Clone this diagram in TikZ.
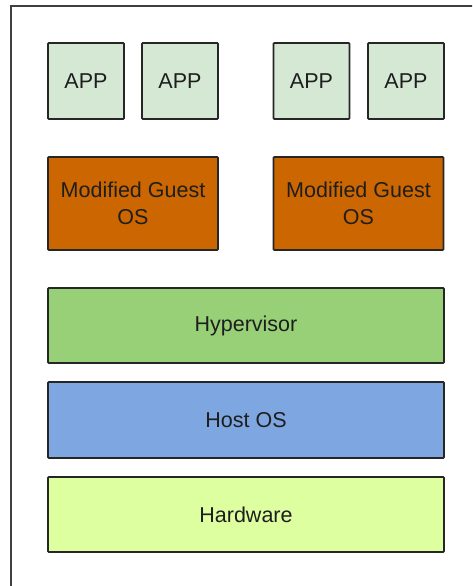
\documentclass[tikz,border=0pt]{standalone}
\usepackage{fontspec}
\setmainfont{Liberation Sans}
\definecolor{appfill}{HTML}{D5E8D4}
\definecolor{guestfill}{HTML}{CC6600}
\definecolor{hypfill}{HTML}{97D077}
\definecolor{hostfill}{HTML}{7EA6E0}
\definecolor{hwfill}{HTML}{DDFFA0}
\definecolor{edge}{HTML}{262626}
\definecolor{txt}{HTML}{1E1E1E}
\begin{document}
\begin{tikzpicture}[x=1pt,y=-1pt,
  layer/.style={draw=edge, line width=1.8pt, rounded corners=0.8pt, text=txt,
    font=\fontsize{21.5}{27.5}\selectfont, align=center, inner sep=0pt},
  appbox/.style={layer, fill=appfill, minimum width=76pt, minimum height=76pt},
  guestbox/.style={layer, fill=guestfill, minimum width=170pt, minimum height=93pt},
  widebox/.style={layer, minimum width=396pt, minimum height=75pt},
  frameline/.style={draw=black!75, line width=1.4pt}]
\useasboundingbox (0,0) rectangle (472,586);
\clip (0,0) rectangle (472,586);
\fill[white] (0,0) rectangle (472,586);
\draw[frameline] (11,600) -- (11,6) -- (480,6);
\node[appbox] (app1) at (86,81) {APP};
\node[appbox] (app2) at (180,81) {APP};
\node[appbox] (app3) at (311.5,81) {APP};
\node[appbox] (app4) at (406,81) {APP};
\node[guestbox] (guest1) at (133,203.5) {Modified Guest\\OS};
\node[guestbox] (guest2) at (358.5,203.5) {Modified Guest\\OS};
\node[widebox, fill=hypfill] (hyp) at (246,325.5) {Hypervisor};
\node[widebox, fill=hostfill, minimum height=76pt] (host) at (246,420) {Host OS};
\node[widebox, fill=hwfill] (hw) at (246,514.5) {Hardware};
\end{tikzpicture}
\end{document}
